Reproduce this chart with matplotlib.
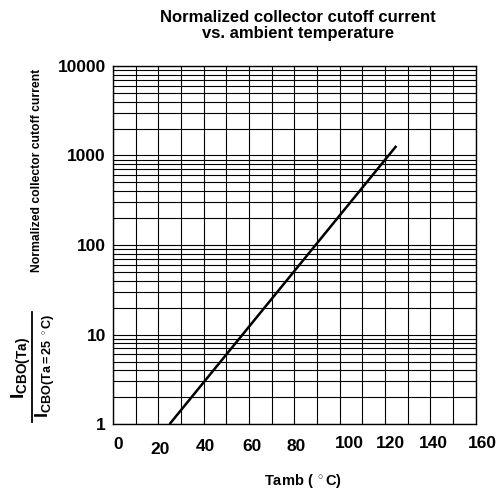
import numpy as np
import matplotlib
matplotlib.use('Agg')
import matplotlib.pyplot as plt
from matplotlib.ticker import FixedLocator, NullFormatter
from matplotlib.transforms import ScaledTranslation
from matplotlib.lines import Line2D

plt.rcParams['font.family'] = ['Liberation Sans', 'DejaVu Sans']
plt.rcParams['font.weight'] = 'bold'
plt.rcParams['mathtext.fontset'] = 'custom'
plt.rcParams['mathtext.rm'] = 'Liberation Sans:bold'
plt.rcParams['mathtext.it'] = 'Liberation Sans:bold'
plt.rcParams['mathtext.bf'] = 'Liberation Sans:bold'

# data
tamb = [25, 125]
icbo_ratio = [1.0, 1280.0]

xticks = [0, 20, 40, 60, 80, 100, 120, 140, 160]
yticks = [1, 10, 100, 1000, 10000]
ylabels = ['1', '10', '100', '1000', '10000']

fig = plt.figure(figsize=(5.04, 4.92), dpi=100)
ax = fig.add_axes([0.224, 0.138, 0.72, 0.728])

ax.plot(tamb, icbo_ratio, color='black', lw=1.8, solid_capstyle='butt')

ax.set_xlim(0, 160)
ax.set_yscale('log')
ax.set_ylim(1, 10000)

ax.xaxis.set_major_locator(FixedLocator(xticks))
ax.xaxis.set_minor_locator(FixedLocator(np.arange(10, 160, 20)))
ax.set_xticklabels([str(t) for t in xticks])
ax.set_yticks(yticks)
ax.set_yticklabels(ylabels)
minors = [m * 10.0 ** d for d in range(4) for m in range(2, 10)]
ax.yaxis.set_minor_locator(FixedLocator(minors))
ax.yaxis.set_minor_formatter(NullFormatter())

ax.grid(True, which='both', color='black', lw=0.8)
ax.tick_params(which='both', length=0)
ax.tick_params(axis='y', labelsize=12.5, pad=5)
ax.tick_params(axis='x', labelsize=12.5, pad=9)
for s in ax.spines.values():
    s.set_linewidth(1.0)

# the x labels in the original sit a bit off their gridlines
dx = [5, 2, 2, 3, 2, 10, 5, 3, 7]
dy = [0, -5, -2, -2, -2, 1, 1, 1, 1]
for lab, ox, oy in zip(ax.get_xticklabels(), dx, dy):
    lab.set_transform(lab.get_transform() +
                      ScaledTranslation(ox / 100, oy / 100, fig.dpi_scale_trans))

ax.set_title('Normalized collector cutoff current\nvs. ambient temperature',
             fontsize=12, fontweight='bold', pad=20, x=0.51, linespacing=1.1)
ax.set_xlabel('Tamb ( $^\\circ$C)', fontsize=10.5, fontweight='bold')
ax.xaxis.set_label_coords(0.523, -0.135)

fig.text(0.073, 0.654, 'Normalized collector cutoff current', rotation=90,
         fontsize=8.7, fontweight='bold', ha='center', va='center')
fig.text(0.042, 1 - 368 / 492, r'$\mathrm{I}_{\mathrm{CBO(Ta)}}$',
         rotation=90, fontsize=14, ha='center', va='center')
fig.text(0.09, 1 - 366 / 492, r'$\mathrm{I}_{\mathrm{CBO(Ta=25\ ^\circ C)}}$',
         rotation=90, fontsize=13, ha='center', va='center')
fig.add_artist(Line2D([32 / 504, 32 / 504], [1 - 312 / 492, 1 - 422 / 492],
                      transform=fig.transFigure, color='black', lw=1.3))

fig.savefig('out.png', dpi=100)
